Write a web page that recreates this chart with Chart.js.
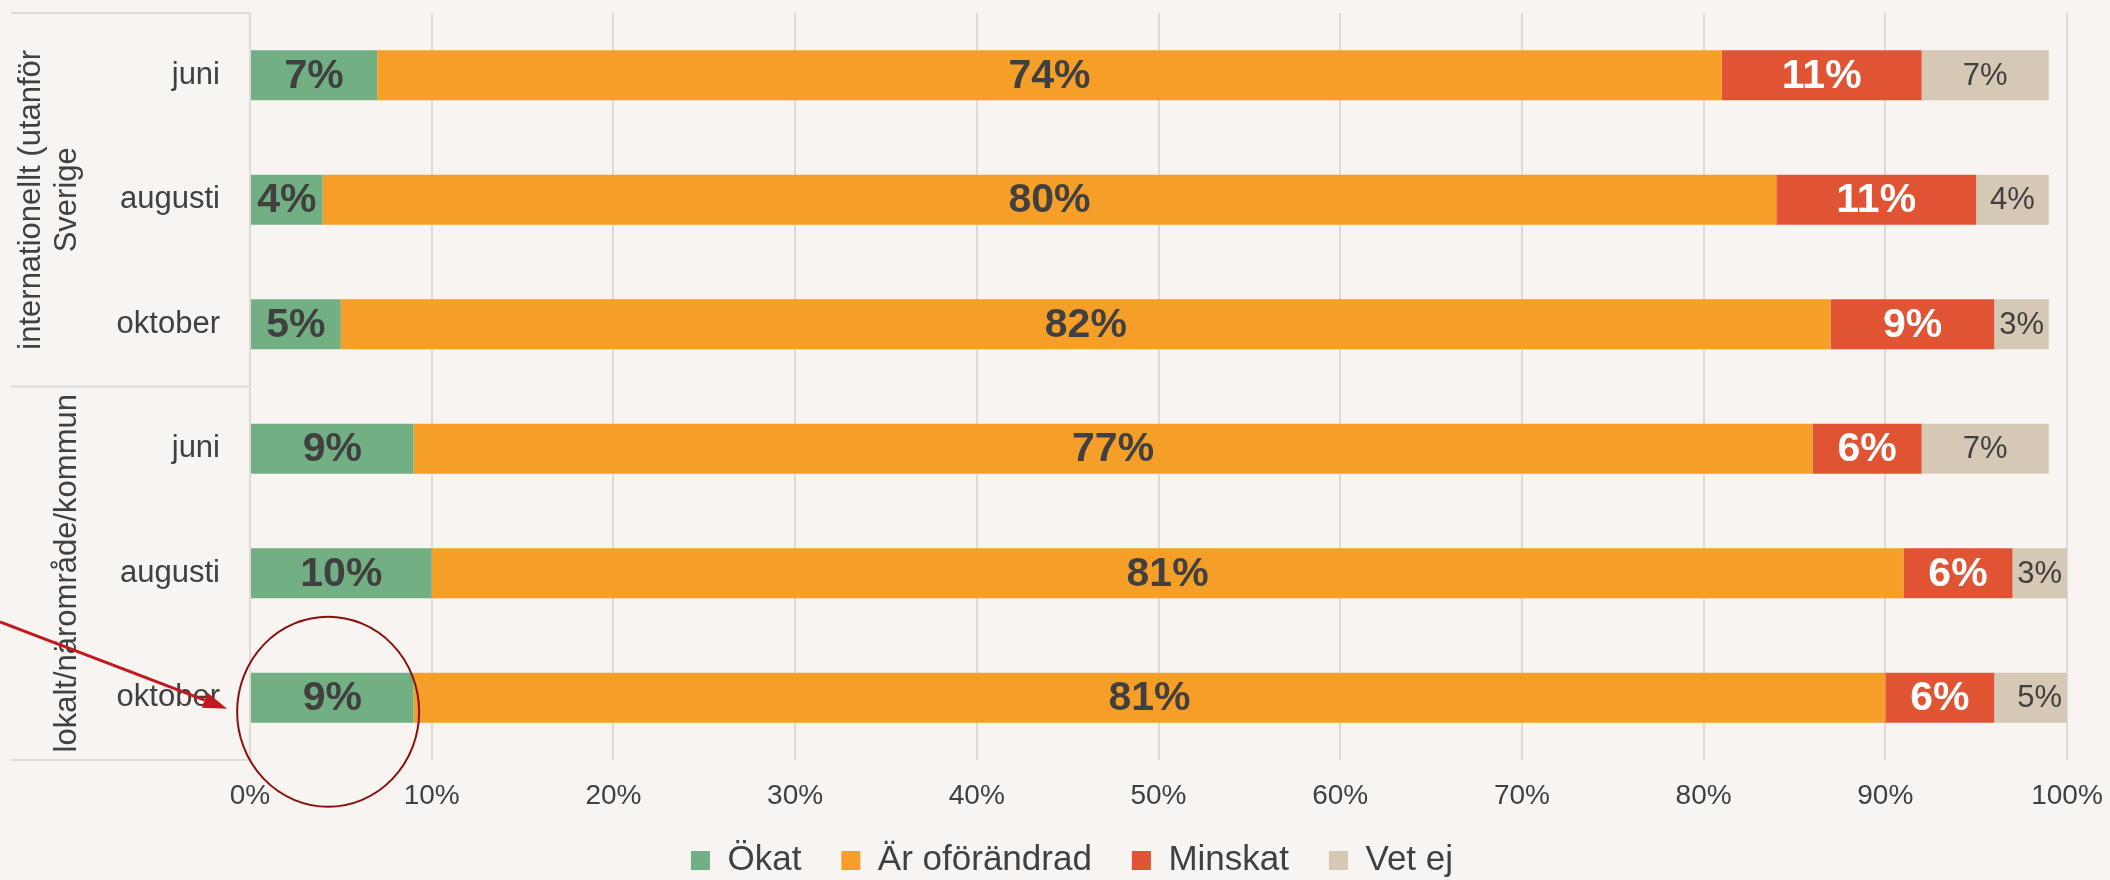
<!DOCTYPE html>
<html>
<head>
<meta charset="utf-8">
<script src="https://cdn.jsdelivr.net/npm/chart.js@4.4.1/dist/chart.umd.min.js"></script>
<style>
  html, body { margin: 0; padding: 0; background: #F7F4F1; }
  #wrap { width: 2110px; height: 880px; position: relative; }
</style>
</head>
<body>
<div id="wrap"><canvas id="c"></canvas></div>
<script>
// ---- data ----
const categories = ['juni', 'augusti', 'oktober', 'juni', 'augusti', 'oktober'];
const groupLabels = [['internationellt (utanför', 'Sverige'], ['lokalt/närområde/kommun']];
const groupSizes = [3, 3];
const seriesNames = ['Ökat', 'Är oförändrad', 'Minskat', 'Vet ej'];
const okat       = [7, 4, 5, 9, 10, 9];
const oforandrad = [74, 80, 82, 77, 81, 81];
const minskat    = [11, 11, 9, 6, 6, 6];
const vetEj      = [7, 4, 3, 7, 3, 5];
const xTickStep = 10;
const xMax = 100;

// ---- style ----
const FONT = "'Liberation Sans', Arial, sans-serif";
const TEXT = '#404040';
const GRID = '#DEDAD6';
const BG = '#F7F4F1';
const colors = ['#72AF83', '#F59E28', '#E05433', '#D5C8B5'];
const labelStyles = [
  { color: TEXT, weight: 'bold', size: 41 },
  { color: TEXT, weight: 'bold', size: 41 },
  { color: '#FFFFFF', weight: 'bold', size: 41 },
  { color: TEXT, weight: 'normal', size: 31 }
];
const LEGEND_FONT = 35, LEGEND_PAD = 40, LEGEND_BOX = 19, LEGEND_CX = 1072, LEGEND_CY = 860.5;
const XTICK_FONT = 28, XTICK_PAD = 19;

const seriesData = [okat, oforandrad, minskat, vetEj];

Chart.defaults.font.family = FONT;
Chart.defaults.color = TEXT;

const bgPlugin = {
  id: 'bg',
  beforeDraw(chart) {
    const ctx = chart.ctx;
    ctx.save();
    ctx.fillStyle = BG;
    ctx.fillRect(0, 0, chart.width, chart.height);
    ctx.restore();
  }
};

// place the legend row and give x tick labels room below the axis
const layoutTweak = {
  id: 'layoutTweak',
  afterLayout(chart) {
    const lg = chart.legend;
    if (lg) {
      const shift = LEGEND_CX - (lg.left + lg.right) / 2;
      lg.left += shift; lg.right += shift;
      const h = lg.bottom - lg.top;
      lg.top = LEGEND_CY - LEGEND_PAD - LEGEND_FONT / 2;
      lg.bottom = lg.top + h;
    }
    const xs = chart.scales.x;
    if (xs) xs.bottom = chart.height;
  }
};

const groupPlugin = {
  id: 'groups',
  afterDraw(chart) {
    const ctx = chart.ctx;
    const ys = chart.scales.y;
    const area = chart.chartArea;
    const x0 = 11, x1 = area.left;
    ctx.save();
    ctx.strokeStyle = GRID;
    ctx.lineWidth = 2;
    const seps = [area.top];
    let idx = 0;
    groupSizes.forEach(n => {
      idx += n;
      if (idx < categories.length) {
        seps.push((ys.getPixelForValue(idx - 1) + ys.getPixelForValue(idx)) / 2);
      }
    });
    seps.push(area.bottom);
    seps.forEach(y => {
      ctx.beginPath(); ctx.moveTo(x0, y); ctx.lineTo(x1, y); ctx.stroke();
    });
    ctx.fillStyle = TEXT;
    ctx.font = `31px ${FONT}`;
    ctx.textAlign = 'center';
    ctx.textBaseline = 'middle';
    let start = 0;
    groupSizes.forEach((n, g) => {
      const yA = ys.getPixelForValue(start), yB = ys.getPixelForValue(start + n - 1);
      const cy = (yA + yB) / 2;
      const lines = groupLabels[g];
      const xs = lines.length === 2 ? [31, 67] : [67];
      lines.forEach((t, k) => {
        ctx.save();
        ctx.translate(xs[k], cy);
        ctx.rotate(-Math.PI / 2);
        ctx.fillText(t, 0, 0);
        ctx.restore();
      });
      start += n;
    });
    ctx.restore();

    // annotation: circle around the last Ökat bar + arrow pointing at it
    const xsS = chart.scales.x;
    const cx = xsS.getPixelForValue(4.3);
    const cyC = ys.getPixelForValue(categories.length - 1) + 14;
    ctx.save();
    ctx.strokeStyle = '#8B1111';
    ctx.lineWidth = 2;
    ctx.beginPath();
    ctx.ellipse(cx, cyC, 91, 95, 0, 0, Math.PI * 2);
    ctx.stroke();
    const ax0 = 0, ay0 = 622, ax1 = cx - 101, ay1 = cyC - 3;
    const ang = Math.atan2(ay1 - ay0, ax1 - ax0);
    const headLen = 24, headW = 8;
    const bx = ax1 - headLen * Math.cos(ang), by = ay1 - headLen * Math.sin(ang);
    ctx.strokeStyle = '#C0191F';
    ctx.fillStyle = '#C0191F';
    ctx.lineWidth = 3;
    ctx.beginPath(); ctx.moveTo(ax0, ay0); ctx.lineTo(bx, by); ctx.stroke();
    ctx.beginPath();
    ctx.moveTo(ax1, ay1);
    ctx.lineTo(bx + headW * Math.sin(ang), by - headW * Math.cos(ang));
    ctx.lineTo(bx - headW * Math.sin(ang), by + headW * Math.cos(ang));
    ctx.closePath(); ctx.fill();
    ctx.restore();
  }
};

const labelPlugin = {
  id: 'barLabels',
  afterDatasetsDraw(chart) {
    const ctx = chart.ctx;
    ctx.save();
    ctx.textAlign = 'center';
    ctx.textBaseline = 'middle';
    chart.data.datasets.forEach((ds, i) => {
      const meta = chart.getDatasetMeta(i);
      const st = labelStyles[i];
      ctx.font = `${st.weight} ${st.size}px ${FONT}`;
      ctx.fillStyle = st.color;
      meta.data.forEach((bar, j) => {
        const v = ds.data[j];
        if (!v) return;
        const p = bar.getProps(['x', 'base', 'y'], true);
        ctx.fillText(v + '%', (p.x + p.base) / 2, p.y + 1);
      });
    });
    ctx.restore();
  }
};

new Chart(document.getElementById('c'), {
  type: 'bar',
  data: {
    labels: categories,
    datasets: seriesNames.map((name, i) => ({
      label: name,
      data: seriesData[i],
      backgroundColor: colors[i],
      borderWidth: 0,
      barPercentage: 0.4,
      categoryPercentage: 1.0,
      clip: 0
    }))
  },
  options: {
    indexAxis: 'y',
    responsive: true,
    maintainAspectRatio: false,
    animation: false,
    events: [],
    layout: { padding: { top: 13, right: 43, bottom: 0, left: 0 } },
    scales: {
      x: {
        stacked: true,
        min: 0,
        max: xMax,
        afterFit: s => { s.height = 35; s.paddingLeft = 0; s.paddingRight = 0; },
        grid: { color: GRID, lineWidth: 2, drawTicks: false },
        border: { display: false },
        ticks: {
          stepSize: xTickStep,
          padding: XTICK_PAD,
          color: TEXT,
          font: { size: XTICK_FONT },
          maxRotation: 0,
          callback: v => v + '%'
        }
      },
      y: {
        stacked: true,
        afterFit: s => { s.width = 250; s.paddingTop = 0; s.paddingBottom = 0; },
        grid: { display: false, drawTicks: false },
        border: { display: false },
        ticks: { padding: 30, color: TEXT, font: { size: 31 } }
      }
    },
    plugins: {
      legend: {
        position: 'bottom',
        labels: {
          boxWidth: LEGEND_BOX,
          boxHeight: LEGEND_BOX,
          padding: LEGEND_PAD,
          color: TEXT,
          font: { size: LEGEND_FONT }
        }
      },
      tooltip: { enabled: false }
    }
  },
  plugins: [bgPlugin, layoutTweak, labelPlugin, groupPlugin]
});
</script>
</body>
</html>
